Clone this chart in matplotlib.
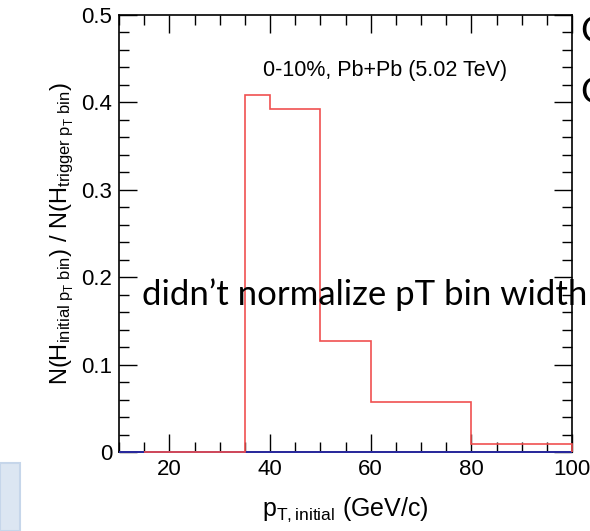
import matplotlib
matplotlib.use("Agg")
import matplotlib.pyplot as plt
from matplotlib.patches import Rectangle
from matplotlib.ticker import MultipleLocator

plt.rcParams["font.family"] = ["Liberation Sans", "DejaVu Sans"]
plt.rcParams["mathtext.fontset"] = "custom"
plt.rcParams["mathtext.rm"] = "Liberation Sans"
plt.rcParams["mathtext.it"] = "Liberation Sans"

# Histogram bin edges and contents
bin_edges = [15, 35, 40, 50, 60, 80, 100]
bin_fraction = [0.0, 0.409, 0.393, 0.127, 0.057, 0.0095]
ref_edges = [10, 100]
ref_values = [0.0]

W, H = 590, 531
fig = plt.figure(figsize=(W / 100, H / 100), dpi=100)
ax = fig.add_axes([119 / W, 1 - 452 / H, (572 - 119) / W, (452 - 15) / H])

ax.stairs(ref_values, ref_edges, color="#2a2aa0", lw=1.4, zorder=3, clip_on=False)
ax.stairs(bin_fraction, bin_edges, color="#f05050", lw=1.2, zorder=4, clip_on=False)

ax.set_xlim(10, 100)
ax.set_ylim(0, 0.5)
ax.xaxis.set_major_locator(MultipleLocator(20))
ax.xaxis.set_minor_locator(MultipleLocator(5))
ax.yaxis.set_minor_locator(MultipleLocator(0.02))
ax.set_yticks([0, 0.1, 0.2, 0.3, 0.4, 0.5])
ax.set_yticklabels(["0", "0.1", "0.2", "0.3", "0.4", "0.5"])
ax.tick_params(which="both", direction="in", top=True, right=True,
               labelsize=16, width=1.0, pad=5)
ax.tick_params(which="major", length=13)
ax.tick_params(which="minor", length=7)
for s in ax.spines.values():
    s.set_linewidth(1.2)

ax.set_xlabel(r"$\mathrm{p_{T,initial}}$ (GeV/c)", fontsize=18, labelpad=11)
ax.set_ylabel(r"$\mathrm{N(H_{initial\ p_{T}\ bin})\ /\ N(H_{trigger\ p_{T}\ bin})}$",
              fontsize=17, labelpad=4)

ax.text(0.587, 0.872, "0-10%, Pb+Pb (5.02 TeV)", transform=ax.transAxes,
        ha="center", va="center", fontsize=15.5)

# slide overlay text
fig.text(142 / W, 1 - 305 / H, "didn\u2019t normalize pT bin width",
         family=["Lato", "DejaVu Sans"], fontsize=25, ha="left",
         va="baseline", color="black")
fig.text(580 / W, 1 - 42 / H, "C", family=["Lato", "DejaVu Sans"],
         fontsize=26, ha="left", va="baseline")
fig.text(580 / W, 1 - 103 / H, "C", family=["Lato", "DejaVu Sans"],
         fontsize=26, ha="left", va="baseline")

fig.patches.append(Rectangle((0, 0), 20 / W, 68 / H, transform=fig.transFigure,
                             facecolor="#dce6f2", edgecolor="#c6d6ea", lw=1.5))

fig.savefig("out.png", dpi=100)
